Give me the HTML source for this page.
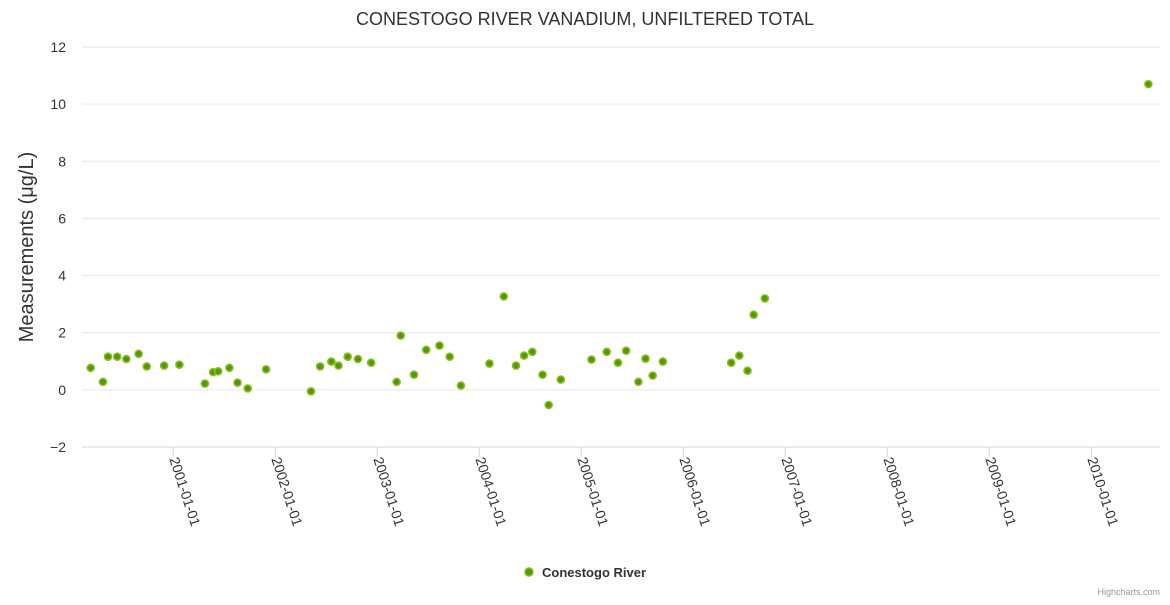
<!DOCTYPE html>
<html><head><meta charset="utf-8"><style>
body{margin:0;background:#fff;font-family:"Liberation Sans",sans-serif}
svg text{font-family:"Liberation Sans",sans-serif}
</style></head><body>
<svg id="chart" width="1170" height="600">
<rect width="1170" height="600" fill="#fff"/>
<text x="585" y="25" text-anchor="middle" font-size="18" fill="#333">CONESTOGO RIVER VANADIUM, UNFILTERED TOTAL</text>
<g id="grid"></g><g id="yt"></g><g id="xt"></g><g id="pts"></g>
<text transform="translate(33,247) rotate(-90)" text-anchor="middle" font-size="20" fill="#333">Measurements (μg/L)</text>
<g>
<circle cx="529" cy="572" r="4" fill="#4f9a00" stroke="#8bbc21" stroke-width="1.5"/>
<text x="542" y="577" font-size="13" font-weight="bold" fill="#333">Conestogo River</text>
</g>
<text x="1160" y="595" text-anchor="end" font-size="9" fill="#999">Highcharts.com</text>
</svg>
<script>
const yTicks=[-2,0,2,4,6,8,10,12];
const xTickYears=[2001,2002,2003,2004,2005,2006,2007,2008,2009,2010];
const dates=[2000.19,2000.31,2000.36,2000.45,2000.54,2000.66,2000.74,2000.91,2001.06,2001.31,2001.39,2001.44,2001.55,2001.63,2001.73,2001.91,2002.35,2002.44,2002.55,2002.62,2002.71,2002.81,2002.94,2003.19,2003.23,2003.36,2003.48,2003.61,2003.71,2003.82,2004.10,2004.24,2004.36,2004.44,2004.52,2004.62,2004.68,2004.80,2005.10,2005.25,2005.36,2005.44,2005.56,2005.63,2005.70,2005.80,2006.47,2006.55,2006.63,2006.69,2006.80,2010.56];
const values=[0.77,0.28,1.16,1.16,1.08,1.26,0.82,0.85,0.88,0.22,0.62,0.65,0.77,0.25,0.05,0.72,-0.05,0.82,0.99,0.85,1.16,1.08,0.95,0.28,1.9,0.53,1.4,1.55,1.16,0.15,0.92,3.27,0.85,1.2,1.33,0.53,-0.53,0.36,1.06,1.33,0.95,1.37,0.28,1.09,0.5,0.99,0.95,1.2,0.67,2.63,3.2,10.7];
const NS="http://www.w3.org/2000/svg";
const L=82,R=1160,T=47,B=447;
const xMin=2000.105,xMax=2010.674,yMin=-2,yMax=12;
const X=v=>L+(v-xMin)/(xMax-xMin)*(R-L);
const Y=v=>B-(v-yMin)/(yMax-yMin)*(B-T);
function mk(tag,a,parent){const e=document.createElementNS(NS,tag);for(const k in a)e.setAttribute(k,a[k]);document.getElementById(parent).appendChild(e);return e;}
yTicks.forEach(t=>{
 const g=mk('line',{x1:L,x2:R,y1:Y(t),y2:Y(t),stroke:t===-2?'#ccd6eb':'#e6e6e6','stroke-width':1},'grid');
 
 
 const tx=mk('text',{x:66,y:Y(t)+5,'text-anchor':'end','font-size':14,fill:'#333'},'yt');
 tx.textContent=t<0?'−'+Math.abs(t):String(t);
 
 
});
xTickYears.forEach(yr=>{
 const x=X(yr);
 const tk=mk('line',{x1:x,x2:x,y1:B,y2:B+10,stroke:'#ccd6eb'},'xt');
 
 
 const tx=mk('text',{transform:`translate(${x-4},${B+12}) rotate(72)`,'font-size':14,fill:'#333'},'xt');
 tx.textContent=yr+'-01-01';
 
 
});
dates.forEach((d,i)=>{
 const c=mk('circle',{cx:X(d),cy:Y(values[i]),r:3.5,fill:'#4f9a00',stroke:'#8bbc21','stroke-width':1.6},'pts');
 
 
});
</script>
</body></html>
